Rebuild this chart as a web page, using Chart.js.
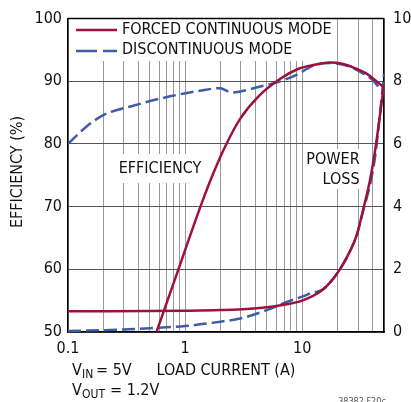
<!DOCTYPE html>
<html>
<head>
<title>Efficiency and Power Loss</title>
<script src="https://cdn.jsdelivr.net/npm/chart.js"></script>
<style>
body { margin: 0; background: #fff; }
</style>
</head>
<body>
<canvas id="effChart" width="411" height="402"></canvas>
<script>
// values (load current in A)
const fcmEffLoad = [0.57, 0.877, 1.39, 1.75, 2.2, 2.95, 4.24, 6.5, 9.3, 11.7, 17.3, 22, 29, 35, 40.6, 50];
const fcmEff     = [50, 60, 70.6, 75.4, 79.6, 84.0, 87.6, 90.4, 92.0, 92.5, 93.0, 92.8, 92.0, 91.3, 90.4, 89.0];

const dcmEffLoad = [0.1, 0.14, 0.2, 0.36, 0.745, 1.34, 1.99, 2.5, 4.24, 6.5, 9.3, 11, 13, 17.3, 25, 31.3, 40, 46.5, 50];
const dcmEff     = [80.0, 82.6, 84.6, 86.1, 87.6, 88.5, 88.9, 88.2, 89.1, 90.0, 91.2, 92.0, 92.6, 92.9, 92.4, 91.5, 90.2, 88.8, 88.5];

const fcmLossLoad = [0.1, 1, 2, 4.1, 7, 10, 14.8, 17.5, 21, 25, 29.3, 33.4, 38, 42, 46.5, 50];
const fcmLoss     = [0.66, 0.68, 0.70, 0.76, 0.87, 1.0, 1.33, 1.6, 2.0, 2.5, 3.1, 3.95, 4.85, 5.8, 7.0, 7.9];

const dcmLossLoad = [0.1, 0.3, 0.5, 1, 2, 2.95, 5, 7.4, 10.7, 11.5, 14.8, 17.5, 21, 25, 29.3, 33.4, 38, 42, 46, 50];
const dcmLoss     = [0.03, 0.08, 0.12, 0.19, 0.33, 0.43, 0.70, 0.96, 1.17, 1.22, 1.35, 1.6, 2.0, 2.5, 3.1, 3.9, 4.7, 5.6, 6.9, 8.24];

const xGrid = [0.1, 0.2, 0.3, 0.4, 0.5, 0.6, 0.7, 0.8, 0.9, 1, 2, 3, 4, 5, 6, 7, 8, 9, 10, 20, 30, 40, 50];
const xTickLabels = [0.1, 1, 10];

const RED = 'rgb(158,17,60)';
const BLUE = 'rgb(62,92,170)';
const FONT = "'Liberation Sans Narrow', 'DejaVu Sans Condensed', sans-serif";

function pts(xs, ys) { return xs.map((x, i) => ({ x: x, y: ys[i] })); }

const overlay = {
  id: 'overlay',
  beforeDatasetsDraw(chart) {
    const c = chart.ctx;
    c.save();
    c.fillStyle = '#fff';
    c.fillRect(69, 17, 253, 44);   // legend area
    c.fillRect(115, 154, 90, 29);  // EFFICIENCY label
    c.fillRect(305, 149, 57, 40);  // POWER LOSS label
    c.restore();
  },
  afterDraw(chart) {
    const c = chart.ctx;
    const a = chart.chartArea;
    c.save();
    c.strokeStyle = '#000';
    c.lineWidth = 1.5;
    c.beginPath(); c.moveTo(a.left, a.top); c.lineTo(a.right, a.top); c.stroke();

    // legend
    c.lineWidth = 2.5;
    c.strokeStyle = RED;
    c.beginPath(); c.moveTo(76, 30); c.lineTo(117, 30); c.stroke();
    c.strokeStyle = BLUE;
    c.setLineDash([21, 6]);
    c.beginPath(); c.moveTo(76, 51); c.lineTo(117, 51); c.stroke();
    c.setLineDash([]);

    c.fillStyle = '#111';
    c.font = '16px ' + FONT;
    c.textBaseline = 'middle';
    c.textAlign = 'left';
    c.fillText('FORCED CONTINUOUS MODE', 122, 30);
    c.fillText('DISCONTINUOUS MODE', 122, 50);

    c.textAlign = 'center';
    c.fillText('EFFICIENCY', 160, 169);
    c.fillText('POWER', 333, 160);
    c.fillText('LOSS', 341, 180);
    c.fillText('LOAD CURRENT (A)', 226, 371);

    // conditions
    c.textAlign = 'left';
    c.fillText('V', 72, 371);
    c.font = '12px ' + FONT;
    c.fillText('IN', 82, 375);
    c.font = '16px ' + FONT;
    c.fillText('= 5V', 96, 371);
    c.fillText('V', 72, 391);
    c.font = '12px ' + FONT;
    c.fillText('OUT', 82, 395);
    c.font = '16px ' + FONT;
    c.fillText('= 1.2V', 110, 391);

    // y axis title
    c.save();
    c.translate(18, 172);
    c.rotate(-Math.PI / 2);
    c.textAlign = 'center';
    c.fillText('EFFICIENCY (%)', 0, 0);
    c.restore();

    c.fillStyle = '#555';
    c.font = '9px ' + FONT;
    c.textAlign = 'center';
    c.fillText('38382 F20c', 362, 402);
    c.restore();
  }
};

const ctx = document.getElementById('effChart').getContext('2d');
new Chart(ctx, {
  type: 'line',
  data: {
    datasets: [
      { data: pts(fcmEffLoad, fcmEff), yAxisID: 'y', borderColor: RED, borderWidth: 2.5 },
      { data: pts(fcmLossLoad, fcmLoss), yAxisID: 'y1', borderColor: RED, borderWidth: 2.5 },
      { data: pts(dcmEffLoad, dcmEff), yAxisID: 'y', borderColor: BLUE, borderWidth: 2.5, borderDash: [13, 5] },
      { data: pts(dcmLossLoad, dcmLoss), yAxisID: 'y1', borderColor: BLUE, borderWidth: 2.5, borderDash: [13, 5] }
    ]
  },
  options: {
    responsive: false,
    animation: false,
    layout: { padding: { top: 16 } },
    elements: {
      point: { radius: 0 },
      line: { cubicInterpolationMode: 'monotone', fill: false }
    },
    plugins: { legend: { display: false }, tooltip: { enabled: false } },
    scales: {
      x: {
        type: 'logarithmic',
        min: 0.1,
        max: 50,
        afterBuildTicks: s => { s.ticks = xGrid.map(v => ({ value: v })); },
        afterFit: s => { s.height = 70; },
        grid: { color: '#9a9a9a', lineWidth: 1, drawTicks: false },
        border: { color: '#000', width: 1.5 },
        ticks: {
          autoSkip: false,
          maxRotation: 0,
          padding: 7,
          color: '#111',
          font: { family: FONT, size: 16 },
          callback: v => xTickLabels.includes(v) ? String(v) : ''
        }
      },
      y: {
        position: 'left',
        min: 50,
        max: 100,
        afterFit: s => { s.width = 68; },
        grid: { color: '#555', lineWidth: 1, drawTicks: false },
        border: { color: '#000', width: 1.5 },
        ticks: { stepSize: 10, padding: 6, color: '#111', font: { family: FONT, size: 16 } }
      },
      y1: {
        position: 'right',
        min: 0,
        max: 10,
        afterFit: s => { s.width = 27; },
        grid: { display: false, drawTicks: false },
        border: { color: '#000', width: 1.5 },
        ticks: { stepSize: 2, padding: 9, color: '#111', font: { family: FONT, size: 16 } }
      }
    }
  },
  plugins: [overlay]
});
</script>
</body>
</html>
